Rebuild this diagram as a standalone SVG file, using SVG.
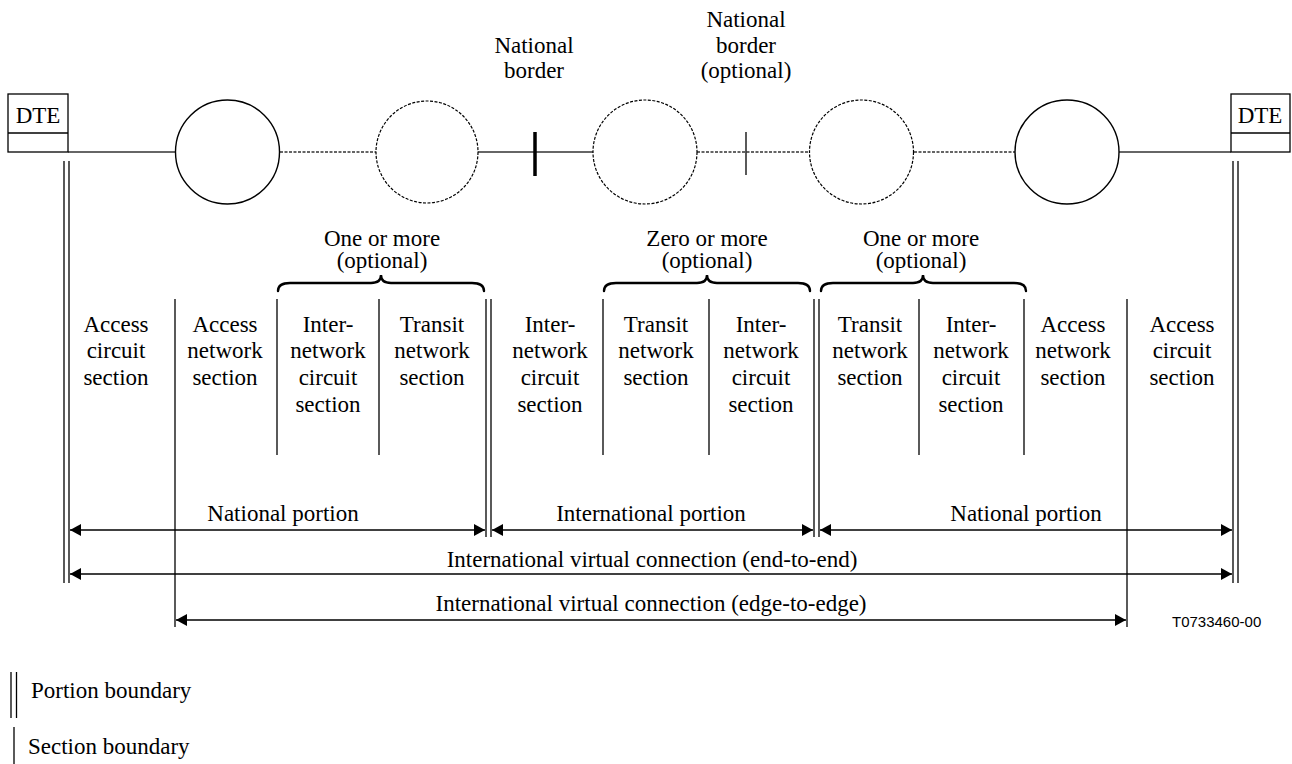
<svg xmlns="http://www.w3.org/2000/svg" width="1292" height="764" viewBox="0 0 1292 764">
<style>
text{font-family:"Liberation Serif","Times New Roman",serif;font-size:23px;fill:#000}
.c{text-anchor:middle}
.ln{stroke:#000;stroke-width:1.3;fill:none}
.conn{stroke:#333;stroke-width:1.6;fill:none}
.dash{stroke:#333;stroke-width:1.3;stroke-dasharray:3 1.5;fill:none}
.node{fill:#fff;stroke:#000;stroke-width:1.4}
.dnode{fill:#fff;stroke:#000;stroke-width:1.2;stroke-dasharray:3 1.5}
.brace{stroke:#000;stroke-width:2.4;fill:none;stroke-linecap:round}
.arr{stroke:#000;stroke-width:1.3;fill:none;marker-start:url(#ah);marker-end:url(#ah)}
.sans{font-family:"Liberation Sans",Arial,sans-serif;font-size:15px}
</style>
<defs>
<marker id="ah" markerUnits="userSpaceOnUse" markerWidth="12" markerHeight="12" refX="11" refY="6" orient="auto-start-reverse">
<path d="M0,0 L11,6 L0,12 z" fill="#000"/>
</marker>
</defs>

<g id="connectors">
<line class="conn" x1="68" y1="152" x2="175" y2="152"/>
<line class="dash" x1="280" y1="152" x2="377" y2="152"/>
<line class="conn" x1="478" y1="152" x2="593" y2="152"/>
<line class="dash" x1="697" y1="152" x2="809" y2="152"/>
<line class="dash" x1="914" y1="152" x2="1015" y2="152"/>
<line class="conn" x1="1119" y1="152" x2="1231" y2="152"/>
</g>

<g id="borders">
<line x1="535" y1="132" x2="535" y2="176" stroke="#000" stroke-width="3.5"/>
<line x1="746" y1="132" x2="746" y2="175" stroke="#000" stroke-width="1.3"/>
<text class="c" x="534" y="53">National</text>
<text class="c" x="534" y="78">border</text>
<text class="c" x="746" y="27">National</text>
<text class="c" x="746" y="53">border</text>
<text class="c" x="746" y="78">(optional)</text>
</g>

<g id="dte-left">
<rect x="8" y="94" width="60" height="58" fill="#fff" stroke="#000" stroke-width="1.3"/>
<line class="ln" x1="8" y1="133" x2="68" y2="133"/>
<text class="c" x="38" y="123">DTE</text>
</g>
<g id="dte-right">
<rect x="1231" y="94" width="59" height="58" fill="#fff" stroke="#000" stroke-width="1.3"/>
<line class="ln" x1="1231" y1="133" x2="1290" y2="133"/>
<text class="c" x="1260" y="123">DTE</text>
</g>

<g id="net1"><circle class="node" cx="227.5" cy="152" r="52"/></g>
<g id="net2"><circle class="dnode" cx="427" cy="152" r="51"/></g>
<g id="net3"><circle class="dnode" cx="645" cy="152" r="52"/></g>
<g id="net4"><circle class="dnode" cx="861.5" cy="152" r="52"/></g>
<g id="net5"><circle class="node" cx="1067" cy="152" r="52"/></g>

<g id="boundaries">
<line class="ln" x1="64" y1="161" x2="64" y2="583"/>
<line class="ln" x1="69" y1="161" x2="69" y2="583"/>
<line class="ln" x1="1233" y1="161" x2="1233" y2="583"/>
<line class="ln" x1="1238" y1="161" x2="1238" y2="583"/>
<line class="ln" x1="486" y1="299" x2="486" y2="537"/>
<line class="ln" x1="491" y1="299" x2="491" y2="537"/>
<line class="ln" x1="814" y1="299" x2="814" y2="537"/>
<line class="ln" x1="819" y1="299" x2="819" y2="537"/>
<line class="ln" x1="175" y1="299" x2="175" y2="627"/>
<line class="ln" x1="1127" y1="299" x2="1127" y2="627"/>
<line class="ln" x1="277" y1="299" x2="277" y2="455"/>
<line class="ln" x1="379" y1="299" x2="379" y2="455"/>
<line class="ln" x1="603" y1="299" x2="603" y2="455"/>
<line class="ln" x1="709" y1="299" x2="709" y2="455"/>
<line class="ln" x1="919" y1="299" x2="919" y2="455"/>
<line class="ln" x1="1024" y1="299" x2="1024" y2="455"/>
</g>

<g id="braces">
<path class="brace" d="M278,291 Q278,283 290,283 L371,283 Q381,283 381,275 Q381,283 391,283 L472,283 Q484,283 484,291"/>
<text class="c" x="382" y="246">One or more</text>
<text class="c" x="382" y="268">(optional)</text>
<path class="brace" d="M604,291 Q604,283 616,283 L697,283 Q707,283 707,275 Q707,283 717,283 L798,283 Q810,283 810,291"/>
<text class="c" x="707" y="246">Zero or more</text>
<text class="c" x="707" y="268">(optional)</text>
<path class="brace" d="M821,291 Q821,283 833,283 L913,283 Q923,283 923,275 Q923,283 933,283 L1014,283 Q1026,283 1026,291"/>
<text class="c" x="921" y="246">One or more</text>
<text class="c" x="921" y="268">(optional)</text>
</g>

<g id="sections">
<text class="c" x="116" y="332">Access</text><text class="c" x="116" y="358">circuit</text><text class="c" x="116" y="385">section</text>
<text class="c" x="225" y="332">Access</text><text class="c" x="225" y="358">network</text><text class="c" x="225" y="385">section</text>
<text class="c" x="328" y="332">Inter-</text><text class="c" x="328" y="358">network</text><text class="c" x="328" y="385">circuit</text><text class="c" x="328" y="412">section</text>
<text class="c" x="432" y="332">Transit</text><text class="c" x="432" y="358">network</text><text class="c" x="432" y="385">section</text>
<text class="c" x="550" y="332">Inter-</text><text class="c" x="550" y="358">network</text><text class="c" x="550" y="385">circuit</text><text class="c" x="550" y="412">section</text>
<text class="c" x="656" y="332">Transit</text><text class="c" x="656" y="358">network</text><text class="c" x="656" y="385">section</text>
<text class="c" x="761" y="332">Inter-</text><text class="c" x="761" y="358">network</text><text class="c" x="761" y="385">circuit</text><text class="c" x="761" y="412">section</text>
<text class="c" x="870" y="332">Transit</text><text class="c" x="870" y="358">network</text><text class="c" x="870" y="385">section</text>
<text class="c" x="971" y="332">Inter-</text><text class="c" x="971" y="358">network</text><text class="c" x="971" y="385">circuit</text><text class="c" x="971" y="412">section</text>
<text class="c" x="1073" y="332">Access</text><text class="c" x="1073" y="358">network</text><text class="c" x="1073" y="385">section</text>
<text class="c" x="1182" y="332">Access</text><text class="c" x="1182" y="358">circuit</text><text class="c" x="1182" y="385">section</text>
</g>

<g id="spans">
<line class="arr" x1="70" y1="530" x2="485" y2="530"/>
<text class="c" x="283" y="521">National portion</text>
<line class="arr" x1="492" y1="530" x2="813" y2="530"/>
<text class="c" x="651" y="521">International portion</text>
<line class="arr" x1="820" y1="530" x2="1232" y2="530"/>
<text class="c" x="1026" y="521">National portion</text>
<line class="arr" x1="70" y1="574" x2="1232" y2="574"/>
<text class="c" x="652" y="567">International virtual connection (end-to-end)</text>
<line class="arr" x1="176" y1="620" x2="1126" y2="620"/>
<text class="c" x="651" y="611">International virtual connection (edge-to-edge)</text>
</g>

<text class="sans" x="1172" y="627">T0733460-00</text>

<g id="legend">
<line class="ln" x1="11" y1="672" x2="11" y2="718"/>
<line class="ln" x1="16.5" y1="672" x2="16.5" y2="718"/>
<text x="31" y="698">Portion boundary</text>
<line class="ln" x1="14" y1="727" x2="14" y2="764"/>
<text x="28" y="754">Section boundary</text>
</g>
</svg>
